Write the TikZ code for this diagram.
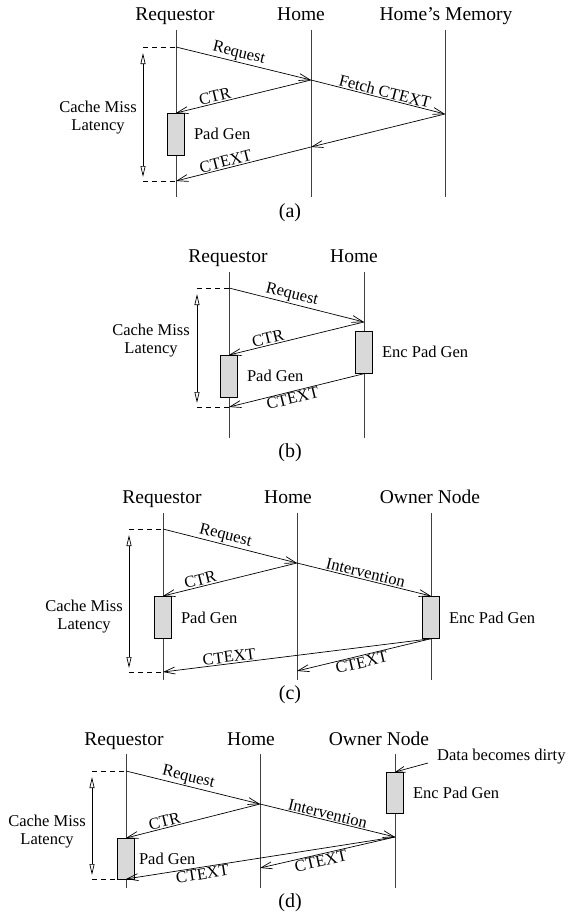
\documentclass[tikz,border=0pt]{standalone}
\usepackage{fontspec}
\setmainfont{Liberation Serif}
\usetikzlibrary{arrows.meta,positioning}

\begin{document}
\begin{tikzpicture}[x=1pt,y=-1pt,
    title/.style={font=\fontsize{19.5}{22}\selectfont, anchor=base},
    sub/.style={font=\fontsize{20}{22}\selectfont},
    lbl/.style={font=\fontsize{16.5}{18}\selectfont, inner sep=1pt},
    life/.style={line width=0.8pt, black!75},
    msg/.style={line width=0.7pt, -{Straight Barb[length=11pt,width=7pt]}},
    padbox/.style={draw, line width=0.7pt, fill=black!15, inner sep=0pt,
                   minimum width=17pt, minimum height=42pt, anchor=north},
    gap/.style={line width=0.7pt, dash pattern=on 5pt off 4pt},
    latency/.style={line width=0.7pt, shorten <=6pt, shorten >=4pt,
                    {Triangle[open,length=11pt,width=5pt]}-{Triangle[open,length=11pt,width=5pt]}}]
  \useasboundingbox (0,0) rectangle (568,916);

  % ---------------- (a) ----------------
  \node[title] (a-t1) at (175,20) {Requestor};
  \node[title] (a-t2) at (301,20) {Home};
  \node[title] (a-t3) at (446,20) {Home's Memory};
  \draw[life] (176,30) -- (176,197);
  \draw[life] (311,30) -- (311,197);
  \draw[life] (445,30) -- (445,197);
  \coordinate (a-r0) at (176,47);
  \coordinate (a-h0) at (311,80);
  \coordinate (a-r1) at (176,113);
  \coordinate (a-m0) at (445,114);
  \coordinate (a-h1) at (311,147);
  \coordinate (a-r2) at (176,181);
  \coordinate (a-lt) at (143,47);
  \coordinate (a-lb) at (143,181);
  \node[padbox] (a-pad) at (a-r1) {};
  \node[lbl, right=8pt of a-pad] {Pad Gen};
  \draw[msg] (a-r0) -- (a-h0) node[lbl, pos=0.45, above, sloped] {Request};
  \draw[msg] (a-h0) -- (a-r1) node[lbl, pos=0.70, above, sloped] {CTR};
  \draw[msg] (a-h0) -- (a-m0) node[lbl, pos=0.54, above, sloped] {Fetch CTEXT};
  \draw[msg] (a-m0) -- (a-h1);
  \draw[msg] (a-h1) -- (a-r2) node[lbl, pos=0.62, above, sloped] {CTEXT};
  \draw[gap] (a-lt) -- (a-r0);
  \draw[gap] (a-lb) -- (a-r2);
  \draw[latency] (a-lt) -- (a-lb);
  \node[lbl, align=center] (a-lat) at (98,118) {Cache Miss\\Latency};
  \node[sub] (a-cap) at (290,213) {(a)};

  % ---------------- (b) ----------------
  \node[title] (b-t1) at (228,262) {Requestor};
  \node[title] (b-t2) at (354,262) {Home};
  \draw[life] (229,272) -- (229,438);
  \draw[life] (364,272) -- (364,438);
  \coordinate (b-r0) at (229,288);
  \coordinate (b-h0) at (364,322);
  \coordinate (b-r1) at (229,355);
  \coordinate (b-r2) at (229,407);
  \coordinate (b-lt) at (197,288);
  \coordinate (b-lb) at (197,407);
  \node[padbox] (b-enc) at (364,331) {};
  \node[lbl, right=8pt of b-enc] {Enc Pad Gen};
  \node[padbox] (b-pad) at (b-r1) {};
  \node[lbl, right=8pt of b-pad] {Pad Gen};
  \draw[msg] (b-r0) -- (b-h0) node[lbl, pos=0.45, above, sloped] {Request};
  \draw[msg] (b-h0) -- (b-r1) node[lbl, pos=0.70, above, sloped] {CTR};
  \draw[msg] (b-enc.south) -- (b-r2) node[lbl, pos=0.54, below, sloped] {CTEXT};
  \draw[gap] (b-lt) -- (b-r0);
  \draw[gap] (b-lb) -- (b-r2);
  \draw[latency] (b-lt) -- (b-lb);
  \node[lbl, align=center] (b-lat) at (151,341) {Cache Miss\\Latency};
  \node[sub] (b-cap) at (290,453) {(b)};

  % ---------------- (c) ----------------
  \node[title] (c-t1) at (162,503) {Requestor};
  \node[title] (c-t2) at (288,503) {Home};
  \node[title] (c-t3) at (430,503) {Owner Node};
  \draw[life] (163,513) -- (163,680);
  \draw[life] (297,513) -- (297,680);
  \draw[life] (431,513) -- (431,680);
  \coordinate (c-r0) at (163,529);
  \coordinate (c-h0) at (297,563);
  \coordinate (c-r1) at (163,596);
  \coordinate (c-o0) at (431,596);
  \coordinate (c-h1) at (297,671);
  \coordinate (c-r2) at (163,672);
  \coordinate (c-lt) at (129,529);
  \coordinate (c-lb) at (129,672);
  \node[padbox] (c-pad) at (c-r1) {};
  \node[lbl, right=8pt of c-pad] {Pad Gen};
  \node[padbox] (c-enc) at (c-o0) {};
  \node[lbl, right=8pt of c-enc] {Enc Pad Gen};
  \draw[msg] (c-r0) -- (c-h0) node[lbl, pos=0.45, above, sloped] {Request};
  \draw[msg] (c-h0) -- (c-r1) node[lbl, pos=0.71, above, sloped] {CTR};
  \draw[msg] (c-h0) -- (c-o0) node[lbl, pos=0.50, above, sloped] {Intervention};
  \draw[msg] (c-enc.south) -- (c-r2) node[lbl, pos=0.75, above, sloped] {CTEXT};
  \draw[msg] (c-enc.south) -- (c-h1) node[lbl, pos=0.53, below, sloped] {CTEXT};
  \draw[gap] (c-lt) -- (c-r0);
  \draw[gap] (c-lb) -- (c-r2);
  \draw[latency] (c-lt) -- (c-lb);
  \node[lbl, align=center] (c-lat) at (84,617) {Cache Miss\\Latency};
  \node[sub] (c-cap) at (290,695) {(c)};

  % ---------------- (d) ----------------
  \node[title] (d-t1) at (124,745) {Requestor};
  \node[title] (d-t2) at (251,745) {Home};
  \node[title] (d-t3) at (379,745) {Owner Node};
  \draw[life] (126,754) -- (126,888);
  \draw[life] (260,754) -- (260,888);
  \draw[life] (395,754) -- (395,888);
  \coordinate (d-r0) at (126,771);
  \coordinate (d-h0) at (260,804);
  \coordinate (d-r1) at (126,838);
  \coordinate (d-o0) at (395,837);
  \coordinate (d-h1) at (260,868);
  \coordinate (d-r2) at (126,879);
  \coordinate (d-lt) at (92,771);
  \coordinate (d-lb) at (92,879);
  \coordinate (d-dsrc) at (428,763);
  \node[padbox, minimum height=41pt] (d-pad) at (d-r1) {};
  \node[lbl, right=3pt of d-pad] {Pad Gen};
  \node[padbox, minimum height=41pt] (d-enc) at (395,772) {};
  \node[lbl, right=8pt of d-enc] {Enc Pad Gen};
  \node[lbl, anchor=west] (d-dirty) at (436,757) {Data becomes dirty};
  \draw[line width=0.7pt, -{Straight Barb[length=9pt,width=6pt]}] (d-dsrc) -- (d-enc.north);
  \draw[msg] (d-r0) -- (d-h0) node[lbl, pos=0.45, above, sloped] {Request};
  \draw[msg] (d-h0) -- (d-r1) node[lbl, pos=0.70, above, sloped] {CTR};
  \draw[msg] (d-h0) -- (d-o0) node[lbl, pos=0.49, above, sloped] {Intervention};
  \draw[msg] (d-o0) -- (d-r2) node[lbl, pos=0.72, below, sloped] {CTEXT};
  \draw[msg] (d-o0) -- (d-h1) node[lbl, pos=0.56, below, sloped] {CTEXT};
  \draw[gap] (d-lt) -- (d-r0);
  \draw[gap] (d-lb) -- (d-r2);
  \draw[latency] (d-lt) -- (d-lb);
  \node[lbl, align=center] (d-lat) at (47,832) {Cache Miss\\Latency};
  \node[sub] (d-cap) at (290,903) {(d)};
\end{tikzpicture}
\end{document}
